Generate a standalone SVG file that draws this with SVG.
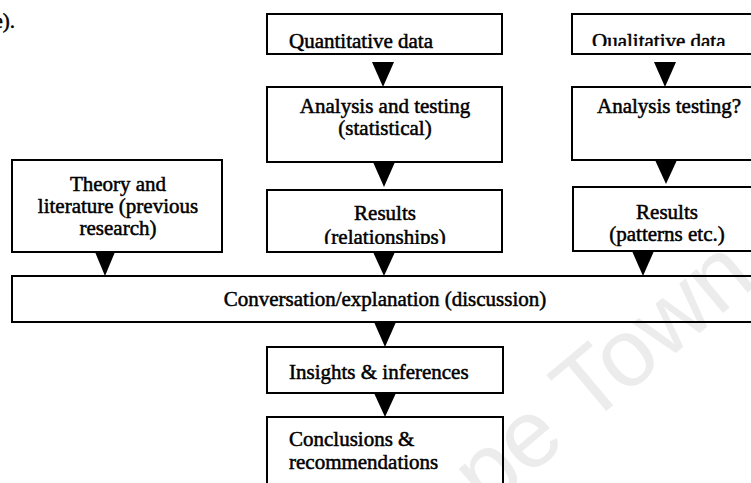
<svg xmlns="http://www.w3.org/2000/svg" width="751" height="483" viewBox="0 0 751 483">
  <style>
    .box { fill: none; stroke: #000; stroke-width: 2; }
    .lbl { font-family: "Liberation Serif", "Times New Roman", serif; font-size: 21px; fill: #000; stroke: #000; stroke-width: 0.5; }
    .mid { text-anchor: middle; }
    .arrow { fill: #000; }
    .mark { font-family: "Liberation Sans", Arial, sans-serif; font-size: 96px; fill: #ececec; }
  </style>
  <defs>
    <clipPath id="cutQual"><rect x="572" y="0" width="200" height="46"/></clipPath>
    <clipPath id="cutRel"><rect x="267" y="190" width="235" height="54"/></clipPath>
  </defs>

  <rect width="751" height="483" fill="#fff"/>

  <!-- faint background watermark -->
  <text class="mark" transform="translate(759 283) rotate(-40)" text-anchor="end">Cape Town</text>

  <!-- trailing end of the preceding paragraph -->
  <text class="lbl" x="-6.6" y="28">e).</text>

  <g id="quantitative-data">
    <rect class="box" x="267" y="14" width="235" height="40"/>
    <text class="lbl" x="289" y="48">Quantitative data</text>
  </g>
  <g id="analysis-statistical">
    <rect class="box" x="267" y="87" width="235" height="75"/>
    <text class="lbl mid" x="385" y="113">Analysis and testing</text>
    <text class="lbl mid" x="385" y="135">(statistical)</text>
  </g>
  <g id="results-relationships">
    <rect class="box" x="267" y="190" width="235" height="62"/>
    <text class="lbl mid" x="385" y="220">Results</text>
    <text class="lbl mid" x="385" y="244" clip-path="url(#cutRel)">(relationships)</text>
  </g>
  <g id="qualitative-data">
    <rect class="box" x="572" y="14" width="200" height="40"/>
    <text class="lbl" x="592" y="48" clip-path="url(#cutQual)">Qualitative data</text>
  </g>
  <g id="analysis-testing">
    <rect class="box" x="572" y="87" width="200" height="73"/>
    <text class="lbl" x="597" y="113">Analysis testing?</text>
  </g>
  <g id="results-patterns">
    <rect class="box" x="573" y="187" width="200" height="64"/>
    <text class="lbl mid" x="667" y="219">Results</text>
    <text class="lbl mid" x="667" y="241">(patterns etc.)</text>
  </g>
  <g id="theory-literature">
    <rect class="box" x="12" y="160" width="210" height="92"/>
    <text class="lbl mid" x="118" y="191">Theory and</text>
    <text class="lbl mid" x="118" y="213">literature (previous</text>
    <text class="lbl mid" x="118" y="235">research)</text>
  </g>
  <g id="conversation">
    <rect class="box" x="12" y="276" width="760" height="46"/>
    <text class="lbl mid" x="385" y="306">Conversation/explanation (discussion)</text>
  </g>
  <g id="insights">
    <rect class="box" x="267" y="347" width="236" height="46"/>
    <text class="lbl" x="289" y="379">Insights &amp; inferences</text>
  </g>
  <g id="conclusions">
    <rect class="box" x="267" y="417" width="236" height="80"/>
    <text class="lbl" x="289" y="446">Conclusions &amp;</text>
    <text class="lbl" x="289" y="469">recommendations</text>
  </g>

  <g id="connectors">
    <polygon class="arrow" points="372,62 394,62 383,87"/>
    <polygon class="arrow" points="373,162 395,162 384,187"/>
    <polygon class="arrow" points="373,252 395,252 384,276"/>
    <polygon class="arrow" points="654,62 676,62 665,87"/>
    <polygon class="arrow" points="655,160 677,160 666,184"/>
    <polygon class="arrow" points="632,251 654,251 643,276"/>
    <polygon class="arrow" points="95,252 115,252 105,276"/>
    <polygon class="arrow" points="374,322 396,322 385,347"/>
    <polygon class="arrow" points="374,393 396,393 385,417"/>
  </g>
</svg>
